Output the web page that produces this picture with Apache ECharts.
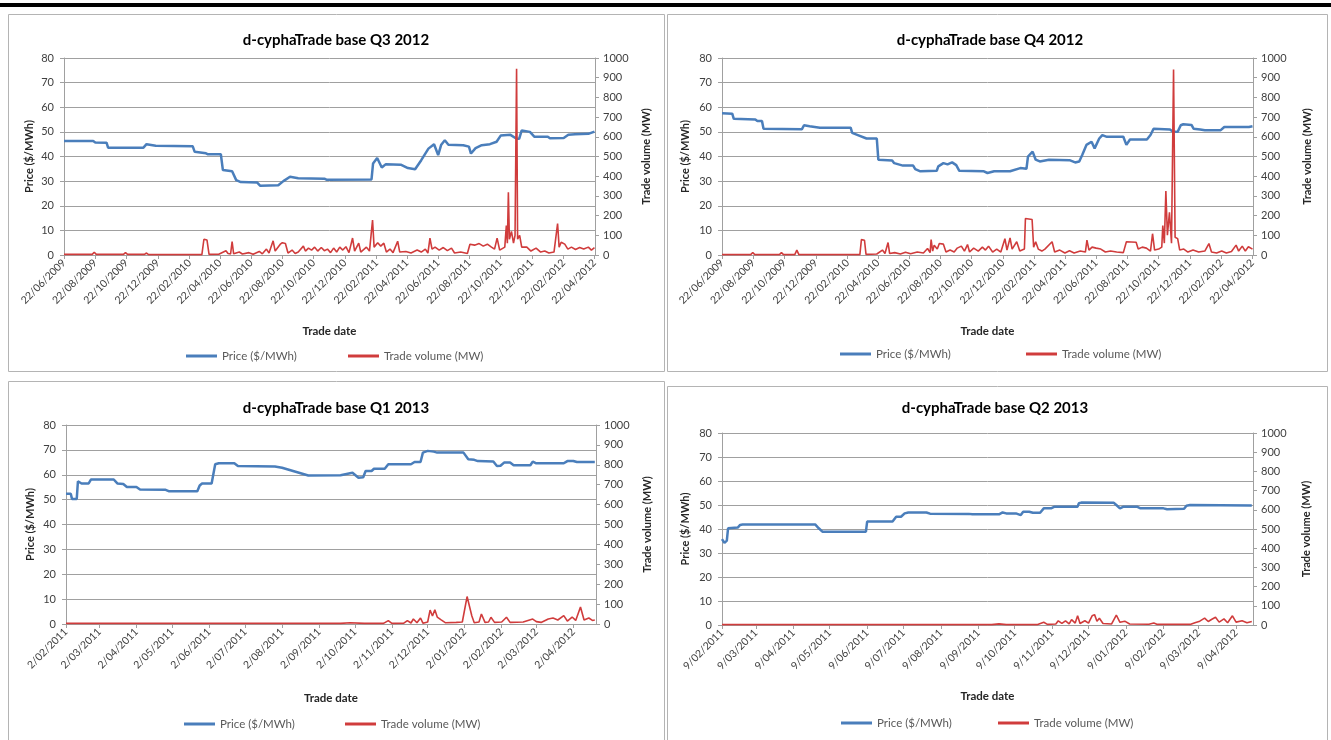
<!DOCTYPE html>
<html>
<head>
<meta charset="utf-8">
<script src="https://cdn.jsdelivr.net/npm/echarts@6/dist/echarts.min.js"></script>
<style>
  html, body { margin: 0; padding: 0; background: #ffffff; }
  #chart { width: 1331px; height: 740px; }
</style>
</head>
<body>
<div id="chart"></div>
<script>
// ---- Tick labels (trade dates) ----
const bimonthlyTicks = ['22/06/2009','22/08/2009','22/10/2009','22/12/2009','22/02/2010','22/04/2010','22/06/2010','22/08/2010','22/10/2010','22/12/2010','22/02/2011','22/04/2011','22/06/2011','22/08/2011','22/10/2011','22/12/2011','22/02/2012','22/04/2012'];
const q1Ticks = ['2/02/2011','2/03/2011','2/04/2011','2/05/2011','2/06/2011','2/07/2011','2/08/2011','2/09/2011','2/10/2011','2/11/2011','2/12/2011','2/01/2012','2/02/2012','2/03/2012','2/04/2012'];
const q2Ticks = ['9/02/2011','9/03/2011','9/04/2011','9/05/2011','9/06/2011','9/07/2011','9/08/2011','9/09/2011','9/10/2011','9/11/2011','9/12/2011','9/01/2012','9/02/2012','9/03/2012','9/04/2012'];

// ---- Q3 2012 contract ----
const q3Price = [['2009-06-22',46.3],['2009-08-18',46.3],['2009-08-22',45.7],['2009-09-13',45.6],['2009-09-16',43.6],['2009-11-24',43.6],['2009-11-30',45.0],['2009-12-18',44.4],['2010-02-28',44.2],['2010-03-04',41.9],['2010-03-26',41.3],['2010-03-30',40.9],['2010-04-24',40.9],['2010-04-28',34.5],['2010-05-16',34.0],['2010-05-24',30.4],['2010-06-02',29.6],['2010-07-04',29.4],['2010-07-10',28.1],['2010-08-14',28.3],['2010-08-24',30.0],['2010-09-06',31.8],['2010-09-22',31.2],['2010-11-12',31.0],['2010-11-16',30.6],['2011-02-12',30.7],['2011-02-15',37.2],['2011-02-23',39.4],['2011-03-04',35.5],['2011-03-12',36.9],['2011-04-10',36.7],['2011-04-24',35.3],['2011-05-08',34.8],['2011-05-20',38.5],['2011-06-03',43.2],['2011-06-14',45.0],['2011-06-22',40.6],['2011-06-28',44.8],['2011-07-05',46.6],['2011-07-12',44.8],['2011-08-10',44.6],['2011-08-21',44.0],['2011-08-25',41.2],['2011-09-03',43.4],['2011-09-15',44.6],['2011-10-01',45.0],['2011-10-14',46.0],['2011-10-22',48.5],['2011-11-10',48.8],['2011-11-22',47.2],['2011-11-27',47.2],['2011-12-02',50.6],['2011-12-18',50.0],['2011-12-27',48.0],['2012-01-22',48.0],['2012-01-26',47.4],['2012-02-22',47.5],['2012-03-02',48.8],['2012-03-15',49.0],['2012-04-10',49.2],['2012-04-22',50.1]];
const q3Volume = [['2009-06-22',3],['2009-08-16',3],['2009-08-20',14],['2009-08-24',3],['2009-10-16',3],['2009-10-20',12],['2009-10-24',3],['2009-11-26',3],['2009-11-30',10],['2009-12-04',2],['2010-03-18',2],['2010-03-22',80],['2010-03-28',76],['2010-04-01',3],['2010-04-20',4],['2010-05-04',22],['2010-05-08',8],['2010-05-13',5],['2010-05-16',68],['2010-05-19',6],['2010-05-30',15],['2010-06-05',5],['2010-06-18',12],['2010-06-26',4],['2010-07-08',18],['2010-07-14',6],['2010-07-22',30],['2010-07-27',10],['2010-08-04',72],['2010-08-08',20],['2010-08-18',55],['2010-08-22',62],['2010-08-28',58],['2010-09-02',10],['2010-09-10',25],['2010-09-16',8],['2010-09-22',15],['2010-10-02',45],['2010-10-06',20],['2010-10-12',35],['2010-10-18',25],['2010-10-24',40],['2010-10-30',20],['2010-11-06',38],['2010-11-12',22],['2010-11-18',30],['2010-11-24',12],['2010-11-30',35],['2010-12-06',15],['2010-12-12',40],['2010-12-18',25],['2010-12-24',42],['2010-12-30',12],['2011-01-06',86],['2011-01-10',20],['2011-01-18',60],['2011-01-22',15],['2011-02-02',40],['2011-02-08',20],['2011-02-14',177],['2011-02-17',40],['2011-02-24',62],['2011-03-02',45],['2011-03-08',60],['2011-03-13',15],['2011-03-20',30],['2011-03-26',12],['2011-04-04',70],['2011-04-08',15],['2011-04-20',18],['2011-04-30',10],['2011-05-12',25],['2011-05-20',15],['2011-05-28',30],['2011-06-02',10],['2011-06-06',86],['2011-06-10',30],['2011-06-16',40],['2011-06-24',25],['2011-07-02',38],['2011-07-10',22],['2011-07-18',35],['2011-07-24',10],['2011-08-05',15],['2011-08-18',8],['2011-08-23',55],['2011-09-01',50],['2011-09-10',58],['2011-09-18',45],['2011-09-26',55],['2011-10-04',40],['2011-10-10',30],['2011-10-15',86],['2011-10-20',25],['2011-10-30',40],['2011-11-02',150],['2011-11-04',60],['2011-11-06',318],['2011-11-08',80],['2011-11-12',120],['2011-11-16',60],['2011-11-19',100],['2011-11-22',945],['2011-11-24',80],['2011-11-28',100],['2011-12-02',40],['2011-12-12',40],['2011-12-20',20],['2011-12-30',35],['2012-01-08',15],['2012-01-16',20],['2012-01-24',10],['2012-02-03',15],['2012-02-10',160],['2012-02-13',40],['2012-02-17',65],['2012-02-24',55],['2012-03-01',30],['2012-03-08',40],['2012-03-16',28],['2012-03-24',38],['2012-04-01',30],['2012-04-10',40],['2012-04-16',25],['2012-04-22',38]];

// ---- Q4 2012 contract ----
const q4Price = [['2009-06-22',57.6],['2009-07-12',57.4],['2009-07-15',55.3],['2009-08-26',55.0],['2009-08-30',54.4],['2009-09-08',54.4],['2009-09-11',51.3],['2009-11-25',51.1],['2009-11-29',52.7],['2009-12-10',52.3],['2009-12-30',51.7],['2010-02-28',51.7],['2010-03-03',49.6],['2010-03-14',48.7],['2010-03-31',47.3],['2010-04-20',47.3],['2010-04-23',38.7],['2010-05-20',38.4],['2010-05-24',37.3],['2010-06-10',36.3],['2010-06-30',36.3],['2010-07-04',34.9],['2010-07-14',34.0],['2010-08-15',34.2],['2010-08-18',36.0],['2010-08-28',37.3],['2010-09-05',36.8],['2010-09-14',37.6],['2010-09-22',36.5],['2010-09-28',34.2],['2010-11-15',34.0],['2010-11-22',33.3],['2010-12-05',34.0],['2011-01-05',34.0],['2011-01-25',35.3],['2011-02-06',35.0],['2011-02-09',40.0],['2011-02-18',42.0],['2011-02-24',38.7],['2011-03-04',38.0],['2011-03-22',38.7],['2011-05-01',38.5],['2011-05-12',37.6],['2011-05-20',38.0],['2011-05-26',40.7],['2011-06-03',44.7],['2011-06-13',46.0],['2011-06-19',43.3],['2011-06-28',47.3],['2011-07-04',48.7],['2011-07-13',48.0],['2011-08-14',48.0],['2011-08-20',44.7],['2011-08-27',46.9],['2011-09-29',46.9],['2011-10-06',48.7],['2011-10-12',51.3],['2011-11-13',51.0],['2011-11-18',50.2],['2011-11-28',50.0],['2011-12-04',52.7],['2011-12-09',53.1],['2011-12-25',52.8],['2011-12-29',51.3],['2012-01-11',51.0],['2012-01-20',50.7],['2012-02-20',50.7],['2012-02-27',52.0],['2012-04-15',52.0],['2012-04-22',52.3]];
const q4Volume = [['2009-06-22',2],['2009-08-17',2],['2009-08-21',13],['2009-08-25',2],['2009-10-12',2],['2009-10-16',12],['2009-10-20',2],['2009-11-11',2],['2009-11-15',25],['2009-11-19',2],['2010-03-18',2],['2010-03-21',78],['2010-03-27',75],['2010-03-30',3],['2010-04-20',5],['2010-05-01',25],['2010-05-06',8],['2010-05-12',63],['2010-05-15',8],['2010-05-25',12],['2010-06-05',5],['2010-06-15',14],['2010-06-25',6],['2010-07-08',15],['2010-07-20',10],['2010-07-28',33],['2010-08-02',12],['2010-08-04',78],['2010-08-07',20],['2010-08-10',50],['2010-08-16',30],['2010-08-20',58],['2010-08-28',55],['2010-09-02',15],['2010-09-10',25],['2010-09-18',15],['2010-09-24',35],['2010-10-02',45],['2010-10-08',20],['2010-10-14',53],['2010-10-18',15],['2010-10-26',35],['2010-11-04',20],['2010-11-12',40],['2010-11-18',25],['2010-11-24',45],['2010-12-02',15],['2010-12-10',30],['2010-12-18',15],['2010-12-26',83],['2010-12-30',25],['2011-01-05',87],['2011-01-09',30],['2011-01-18',67],['2011-01-24',20],['2011-02-02',30],['2011-02-04',185],['2011-02-17',180],['2011-02-20',40],['2011-02-24',67],['2011-03-01',30],['2011-03-08',20],['2011-03-14',30],['2011-03-28',67],['2011-04-02',15],['2011-04-12',25],['2011-04-22',10],['2011-05-01',22],['2011-05-10',10],['2011-05-22',20],['2011-06-01',15],['2011-06-04',75],['2011-06-08',25],['2011-06-14',40],['2011-06-22',35],['2011-07-01',30],['2011-07-10',15],['2011-07-20',20],['2011-08-01',15],['2011-08-14',12],['2011-08-20',67],['2011-09-08',65],['2011-09-12',30],['2011-09-20',40],['2011-09-28',35],['2011-10-06',20],['2011-10-10',108],['2011-10-14',25],['2011-10-22',30],['2011-10-28',40],['2011-10-30',150],['2011-11-02',60],['2011-11-05',325],['2011-11-08',100],['2011-11-12',217],['2011-11-16',60],['2011-11-20',942],['2011-11-23',90],['2011-11-28',83],['2011-12-02',25],['2011-12-10',30],['2011-12-18',15],['2011-12-28',25],['2012-01-08',15],['2012-01-20',20],['2012-01-28',58],['2012-02-02',15],['2012-02-12',10],['2012-02-22',20],['2012-03-02',10],['2012-03-12',18],['2012-03-21',50],['2012-03-26',20],['2012-04-02',45],['2012-04-08',20],['2012-04-14',42],['2012-04-22',30]];

// ---- Q1 2013 contract ----
const q1Price = [['2011-02-02',52.4],['2011-02-06',52.4],['2011-02-07',50.3],['2011-02-11',50.3],['2011-02-12',57.4],['2011-02-15',56.5],['2011-02-21',56.5],['2011-02-23',58.1],['2011-03-14',58.1],['2011-03-17',56.5],['2011-03-22',56.3],['2011-03-25',55.1],['2011-04-02',55.1],['2011-04-05',54.1],['2011-04-26',54.0],['2011-04-29',53.4],['2011-05-23',53.4],['2011-05-25',55.7],['2011-05-27',56.5],['2011-06-04',56.5],['2011-06-07',64.2],['2011-06-10',64.6],['2011-06-23',64.6],['2011-06-26',63.5],['2011-07-27',63.3],['2011-08-02',62.8],['2011-08-24',59.7],['2011-09-20',59.8],['2011-09-30',60.8],['2011-10-05',58.8],['2011-10-09',59.0],['2011-10-11',61.5],['2011-10-16',61.5],['2011-10-18',62.4],['2011-10-27',62.4],['2011-10-30',64.2],['2011-11-18',64.2],['2011-11-21',65.1],['2011-11-26',65.1],['2011-11-28',68.9],['2011-12-02',69.6],['2011-12-07',69.3],['2011-12-10',68.9],['2012-01-01',68.9],['2012-01-05',66.2],['2012-01-10',66.0],['2012-01-13',65.5],['2012-01-26',65.3],['2012-01-29',63.5],['2012-02-01',63.6],['2012-02-04',64.9],['2012-02-09',64.9],['2012-02-12',63.8],['2012-02-26',63.8],['2012-02-28',65.3],['2012-03-02',64.6],['2012-03-25',64.6],['2012-03-28',65.5],['2012-04-02',65.5],['2012-04-05',65.1],['2012-04-20',65.1]];
const q1Volume = [['2011-02-02',3],['2011-09-20',3],['2011-09-28',6],['2011-10-10',3],['2011-10-26',3],['2011-10-30',17],['2011-11-02',3],['2011-11-12',4],['2011-11-15',17],['2011-11-18',5],['2011-11-20',25],['2011-11-23',6],['2011-11-26',30],['2011-11-28',4],['2011-12-02',10],['2011-12-04',70],['2011-12-06',40],['2011-12-08',72],['2011-12-10',35],['2011-12-13',22],['2011-12-17',6],['2011-12-26',8],['2011-12-31',10],['2012-01-04',138],['2012-01-08',40],['2012-01-10',6],['2012-01-14',10],['2012-01-16',50],['2012-01-19',8],['2012-01-22',10],['2012-01-24',34],['2012-01-27',8],['2012-02-02',10],['2012-02-06',34],['2012-02-09',8],['2012-02-20',10],['2012-02-28',25],['2012-03-02',12],['2012-03-06',8],['2012-03-12',25],['2012-03-16',30],['2012-03-20',20],['2012-03-25',42],['2012-03-28',15],['2012-04-01',35],['2012-04-04',18],['2012-04-08',85],['2012-04-11',20],['2012-04-15',30],['2012-04-18',18],['2012-04-20',20]];

// ---- Q2 2013 contract ----
const q2Price = [['2011-02-09',35.8],['2011-02-11',34.2],['2011-02-13',35.2],['2011-02-14',40.3],['2011-02-22',40.6],['2011-02-24',41.7],['2011-02-26',41.9],['2011-04-27',41.9],['2011-04-30',40.3],['2011-05-03',38.9],['2011-06-08',38.9],['2011-06-09',43.1],['2011-06-30',43.1],['2011-07-03',45.1],['2011-07-07',45.1],['2011-07-10',46.5],['2011-07-13',46.9],['2011-07-28',46.9],['2011-07-31',46.4],['2011-09-01',46.3],['2011-09-04',46.1],['2011-09-26',46.1],['2011-09-29',46.9],['2011-10-02',46.5],['2011-10-10',46.5],['2011-10-14',45.8],['2011-10-16',47.2],['2011-10-21',47.2],['2011-10-24',46.8],['2011-10-30',46.8],['2011-11-02',48.6],['2011-11-08',48.6],['2011-11-11',49.3],['2011-11-30',49.3],['2011-12-01',50.7],['2011-12-03',51.0],['2011-12-30',50.9],['2012-01-01',50.0],['2012-01-04',48.6],['2012-01-07',49.3],['2012-01-18',49.3],['2012-01-21',48.6],['2012-02-09',48.6],['2012-02-12',48.2],['2012-02-26',48.4],['2012-02-28',49.7],['2012-03-02',50.0],['2012-04-22',49.8]];
const q2Volume = [['2011-02-09',2],['2011-09-20',2],['2011-09-26',6],['2011-10-02',2],['2011-10-28',2],['2011-11-02',14],['2011-11-05',3],['2011-11-12',5],['2011-11-14',22],['2011-11-17',8],['2011-11-20',22],['2011-11-23',6],['2011-11-25',28],['2011-11-28',10],['2011-11-30',48],['2011-12-02',8],['2011-12-06',22],['2011-12-09',10],['2011-12-12',48],['2011-12-14',54],['2011-12-16',20],['2011-12-18',35],['2011-12-21',8],['2011-12-28',5],['2012-01-01',52],['2012-01-04',14],['2012-01-08',20],['2012-01-12',5],['2012-01-28',4],['2012-02-01',10],['2012-02-04',3],['2012-03-02',3],['2012-03-06',12],['2012-03-10',20],['2012-03-14',36],['2012-03-17',18],['2012-03-20',30],['2012-03-23',40],['2012-03-26',15],['2012-03-30',32],['2012-04-02',12],['2012-04-06',48],['2012-04-09',15],['2012-04-14',22],['2012-04-18',12],['2012-04-22',18]];

const PRICE_NAME = 'Price ($/MWh)';
const VOLUME_NAME = 'Trade volume (MW)';
const FONT = 'Lato, "Open Sans", sans-serif';
const PRICE_COLOR = '#4a7ebb';
const VOLUME_COLOR = '#d03c3c';
const GRID_COLOR = '#a0a0a0';
const TEXT_COLOR = '#404040';

function labelToTime(s) {
  const p = s.split('/').map(Number);
  return new Date(p[2], p[1] - 1, p[0]).getTime();
}
function isoToTime(s) {
  const p = s.split('-').map(Number);
  return new Date(p[0], p[1] - 1, p[2]).getTime();
}
const toPoints = rows => rows.map(r => [isoToTime(r[0]), r[1]]);

// Layout of the four chart panels
const panels = [
  { title: 'd-cyphaTrade base Q3 2012', price: q3Price, volume: q3Volume, ticks: bimonthlyTicks,
    min: '2009-06-22', max: '2012-04-23',
    grid: { left: 64, top: 58, width: 531, height: 197 },
    titlePos: [336, 40], legendTop: 350, legendLeft: [186, 348], leftGap: 29, rightGap: 46, xNameGap: 70,
    box: [8.5, 14.5, 656, 357] },
  { title: 'd-cyphaTrade base Q4 2012', price: q4Price, volume: q4Volume, ticks: bimonthlyTicks,
    min: '2009-06-22', max: '2012-04-23',
    grid: { left: 722, top: 58, width: 531, height: 197 },
    titlePos: [990, 40], legendTop: 348, legendLeft: [840, 1026], leftGap: 31, rightGap: 49, xNameGap: 70,
    box: [667.5, 14.5, 660, 357] },
  { title: 'd-cyphaTrade base Q1 2013', price: q1Price, volume: q1Volume, ticks: q1Ticks,
    min: '2011-02-02', max: '2012-04-21',
    grid: { left: 66, top: 425, width: 530, height: 199 },
    titlePos: [336, 408], legendTop: 718, legendLeft: [184, 345], leftGap: 30, rightGap: 46, xNameGap: 68,
    box: [8.5, 381.5, 656, 365] },
  { title: 'd-cyphaTrade base Q2 2013', price: q2Price, volume: q2Volume, ticks: q2Ticks,
    min: '2011-02-09', max: '2012-04-23',
    grid: { left: 722, top: 433, width: 531, height: 192 },
    titlePos: [995, 408], legendTop: 717, legendLeft: [841, 998], leftGap: 31, rightGap: 48, xNameGap: 65,
    box: [667.5, 386.5, 660, 360] }
];

const option = {
  animation: false,
  backgroundColor: '#ffffff',
  textStyle: { fontFamily: FONT },
  grid: [], xAxis: [], yAxis: [], series: [], legend: [], graphic: []
};

// Page rule above the panels
option.graphic.push({ type: 'rect', silent: true, shape: { x: 0, y: 3, width: 1331, height: 4 }, style: { fill: '#000000' } });

panels.forEach((p, i) => {
  const tickTimes = p.ticks.map(labelToTime);
  const labelOf = {};
  p.ticks.forEach((t, k) => { labelOf[tickTimes[k]] = t; });

  option.graphic.push({ type: 'rect', silent: true, z: -1,
    shape: { x: p.box[0], y: p.box[1], width: p.box[2], height: p.box[3] },
    style: { fill: 'none', stroke: '#b4b4b4', lineWidth: 1 } });
  option.graphic.push({ type: 'text', silent: true, x: p.titlePos[0], y: p.titlePos[1],
    style: { text: p.title, font: 'bold 15px ' + FONT, fill: '#000000', align: 'center', verticalAlign: 'middle' } });

  option.grid.push(Object.assign({ containLabel: false }, p.grid));

  // Trade-date axis: a numeric axis over timestamps with labels at the listed dates
  option.xAxis.push({
    type: 'value', gridIndex: i,
    min: isoToTime(p.min), max: isoToTime(p.max),
    name: 'Trade date', nameLocation: 'middle', nameGap: p.xNameGap,
    nameTextStyle: { fontFamily: FONT, fontWeight: 'bold', fontSize: 11.5, color: '#262626' },
    axisLine: { show: true, onZero: false, lineStyle: { color: GRID_COLOR, width: 1 } },
    axisTick: { show: true, length: 4, lineStyle: { color: GRID_COLOR }, customValues: tickTimes },
    axisLabel: {
      customValues: tickTimes, rotate: 45, margin: 6, fontSize: 10.5, color: TEXT_COLOR, fontFamily: FONT,
      showMinLabel: true, showMaxLabel: true,
      formatter: v => labelOf[v] || ''
    },
    splitLine: { show: false }
  });

  option.yAxis.push({
    type: 'value', gridIndex: i, position: 'left', min: 0, max: 80, interval: 10,
    name: PRICE_NAME, nameLocation: 'middle', nameGap: p.leftGap, nameRotate: 90,
    nameTextStyle: { fontFamily: FONT, fontWeight: 'bold', fontSize: 11, color: '#262626' },
    axisLine: { show: true, lineStyle: { color: GRID_COLOR } },
    axisTick: { show: true, length: 4, lineStyle: { color: GRID_COLOR } },
    axisLabel: { fontSize: 11, color: TEXT_COLOR, margin: 10, fontFamily: FONT, formatter: v => String(v) },
    splitLine: { show: true, lineStyle: { color: GRID_COLOR, width: 1 } }
  });
  option.yAxis.push({
    type: 'value', gridIndex: i, position: 'right', min: 0, max: 1000, interval: 100,
    name: VOLUME_NAME, nameLocation: 'middle', nameGap: p.rightGap, nameRotate: 90,
    nameTextStyle: { fontFamily: FONT, fontWeight: 'bold', fontSize: 11, color: '#262626' },
    axisLine: { show: true, lineStyle: { color: GRID_COLOR } },
    axisTick: { show: true, length: 4, lineStyle: { color: GRID_COLOR } },
    axisLabel: { fontSize: 11, color: TEXT_COLOR, margin: 8, fontFamily: FONT, formatter: v => String(v) },
    splitLine: { show: false }
  });

  option.series.push({
    name: PRICE_NAME, type: 'line', xAxisIndex: i, yAxisIndex: 2 * i,
    data: toPoints(p.price), showSymbol: false, symbol: 'none',
    lineStyle: { color: PRICE_COLOR, width: 2.5 }, itemStyle: { color: PRICE_COLOR }, z: 2
  });
  option.series.push({
    name: VOLUME_NAME, type: 'line', xAxisIndex: i, yAxisIndex: 2 * i + 1,
    data: toPoints(p.volume), showSymbol: false, symbol: 'none',
    lineStyle: { color: VOLUME_COLOR, width: 1.6 }, itemStyle: { color: VOLUME_COLOR }, z: 3
  });

  [PRICE_NAME, VOLUME_NAME].forEach((nm, k) => {
    option.legend.push({
      data: [nm], left: p.legendLeft[k], top: p.legendTop, icon: 'rect',
      itemWidth: 31, itemHeight: 3, itemGap: 0, padding: 0, selectedMode: false,
      textStyle: { fontFamily: FONT, fontSize: 11.5, color: '#595959' }
    });
  });
});

const chart = echarts.init(document.getElementById('chart'), null, { renderer: 'canvas' });
chart.setOption(option);
</script>
</body>
</html>
